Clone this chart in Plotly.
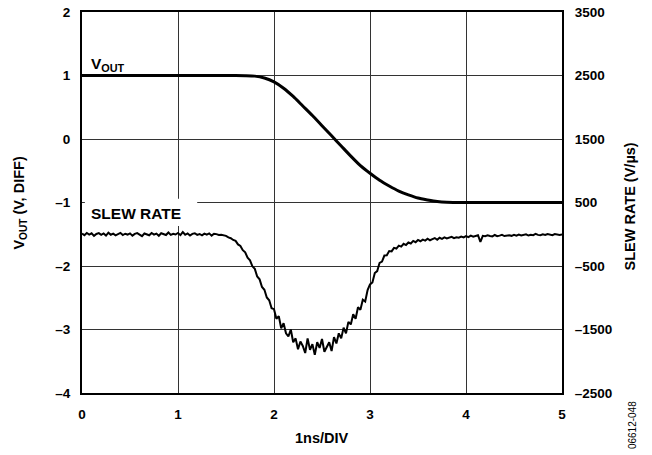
import plotly.graph_objects as go

# ---------------- data ----------------
# Output voltage (left axis, V diff) vs time (ns)
vout_time = [0.0, 1.6, 1.7, 1.8, 1.9, 2.0, 2.1, 2.2, 2.3, 2.4, 2.5, 2.6, 2.7,
             2.8, 2.9, 3.0, 3.1, 3.2, 3.3, 3.4, 3.5, 3.6, 3.7, 3.8, 3.9, 5.0]
vout_values = [1.0, 1.0, 0.997, 0.99, 0.96, 0.90, 0.80, 0.67, 0.52, 0.37, 0.21, 0.05, -0.11,
               -0.27, -0.42, -0.54, -0.65, -0.74, -0.82, -0.88, -0.93, -0.96, -0.985, -0.997, -1.0, -1.0]

# Slew rate (right axis, V/us), sampled every 0.025 ns from 0 to 5 ns
slew_step = 0.025
slew_values = [
    10, -15, 20, -5, 15, -25, 5, 18, -10, 12, -20, 25, -8, 10, -18, 6, 22, -12, 8, -5,
    14, -22, 6, 18, -8, -30, 12, 4, -16, 20, -6, 10, -24, 16, 2, -12, 28, -10, 8, -4,
    20, -14, 35, -8, 12, -20, 6, 16, -10, 4, -18, 10, -6, 14, -22, 8, 2, -12, -8, -20,
    -25, -50, -62, -90, -105, -160, -185, -250, -285, -370, -410, -505, -545, -665, -710, -830, -875, -995, -1040, -1165,
    -1180, -1330, -1290, -1480, -1400, -1560, -1610, -1500, -1700, -1640, -1810, -1690, -1760, -1870, -1640, -1820, -1730, -1900, -1700, -1790,
    -1650, -1850, -1760, -1700, -1840, -1620, -1720, -1560, -1640, -1470, -1560, -1380, -1420, -1260, -1330, -1150, -1190, -1030, -1060, -880,
    -790, -760, -610, -580, -450, -430, -335, -330, -265, -270, -215, -225, -180, -195, -150, -170, -130, -145, -105, -125,
    -90, -110, -85, -100, -70, -95, -78, -60, -88, -55, -72, -50, -66, -58, -40, -62, -48, -55, -38, -50,
    -30, -45, -22, -38, -28, -15, -120, -25, -32, -18, -28, -35, -12, -30, -22, -10, -28, -20, -16, -25,
    -10, -22, -5, -18, -12, 0, -20, -8, -14, 5, -10, -16, -2, -12, 4, -8, -15, 2, -6, -10,
    -4,
]
slew_time = [i * slew_step for i in range(len(slew_values))]

x_ticks = [0, 1, 2, 3, 4, 5]
x_ticklabels = ["0", "1", "2", "3", "4", "5"]
y_left_ticks = [-4, -3, -2, -1, 0, 1, 2]
y_left_ticklabels = ["–4", "–3", "–2", "–1", "0", "1", "2"]
y_right_ticks = [-2500, -1500, -500, 500, 1500, 2500, 3500]
y_right_ticklabels = ["–2500", "–1500", "–500", "500", "1500", "2500", "3500"]

FONT = "Arial, Liberation Sans, Helvetica, sans-serif"

fig = go.Figure()
fig.add_trace(go.Scatter(x=vout_time, y=vout_values, mode="lines",
                         line=dict(color="black", width=3, shape="spline", smoothing=0.6),
                         yaxis="y", showlegend=False, hoverinfo="skip"))
fig.add_trace(go.Scatter(x=slew_time, y=slew_values, mode="lines",
                         line=dict(color="black", width=2),
                         yaxis="y2", showlegend=False, hoverinfo="skip"))

grid_col = "#333333"
fig.update_layout(
    width=652, height=455,
    margin=dict(l=82, r=90, t=12, b=62, autoexpand=False),
    paper_bgcolor="white", plot_bgcolor="white",
    font=dict(family=FONT, color="black"),
    xaxis=dict(range=[0, 5], tickvals=x_ticks, ticktext=x_ticklabels,
               showgrid=True, gridcolor=grid_col, gridwidth=1.3,
               showline=True, linecolor="black", linewidth=2, mirror=True,
               zeroline=False, ticks="", ticklabelstandoff=8, automargin=False,
               tickfont=dict(size=13.5, family=FONT, weight="bold")),
    yaxis=dict(range=[-4, 2], tickvals=y_left_ticks, ticktext=y_left_ticklabels,
               showgrid=True, gridcolor=grid_col, gridwidth=1.3,
               showline=True, linecolor="black", linewidth=2, mirror=True,
               zeroline=False, ticks="", ticklabelstandoff=7, automargin=False,
               tickfont=dict(size=13.5, family=FONT, weight="bold")),
    yaxis2=dict(range=[-2500, 3500], tickvals=y_right_ticks, ticktext=y_right_ticklabels,
                overlaying="y", side="right", showgrid=False,
                showline=True, linecolor="black", linewidth=2,
                zeroline=False, ticks="", ticklabelstandoff=8, automargin=False,
                tickfont=dict(size=13.5, family=FONT, weight="bold")),
)

# white box hiding the grid behind the SLEW RATE label
fig.add_shape(type="rect", xref="x", yref="y", x0=0.03, x1=1.2, y0=-1.37, y1=-0.94,
              fillcolor="white", line=dict(width=0), layer="above")

ann_font = dict(family=FONT, size=15.5, color="black", weight="bold")
fig.add_annotation(text="V<sub>OUT</sub>", xref="x", yref="y", x=0.07, y=1.17,
                   xanchor="left", yanchor="middle", showarrow=False, font=ann_font)
fig.add_annotation(text="SLEW RATE", xref="x", yref="y", x=0.07, y=-1.18,
                   xanchor="left", yanchor="middle", showarrow=False, font=ann_font)

title_font = dict(family=FONT, size=14.5, color="black", weight="bold")
fig.add_annotation(text="V<sub>OUT</sub> (V, DIFF)", xref="paper", yref="paper",
                   x=-0.131, y=0.50, textangle=-90, showarrow=False,
                   xanchor="center", yanchor="middle", font=title_font)
fig.add_annotation(text="SLEW RATE (V/µs)", xref="paper", yref="paper",
                   x=1.142, y=0.49, textangle=-90, showarrow=False,
                   xanchor="center", yanchor="middle", font=title_font)
fig.add_annotation(text="1ns/DIV", xref="paper", yref="paper",
                   x=0.5, y=-0.118, showarrow=False,
                   xanchor="center", yanchor="middle", font=title_font)
fig.add_annotation(text="06612-048", xref="paper", yref="paper",
                   x=1.146, y=-0.084, textangle=-90, showarrow=False,
                   xanchor="center", yanchor="middle",
                   font=dict(family=FONT, size=10, color="black"))

fig.write_html("out.html", config={"displayModeBar": False},
               post_script="document.body.style.margin='0';")
